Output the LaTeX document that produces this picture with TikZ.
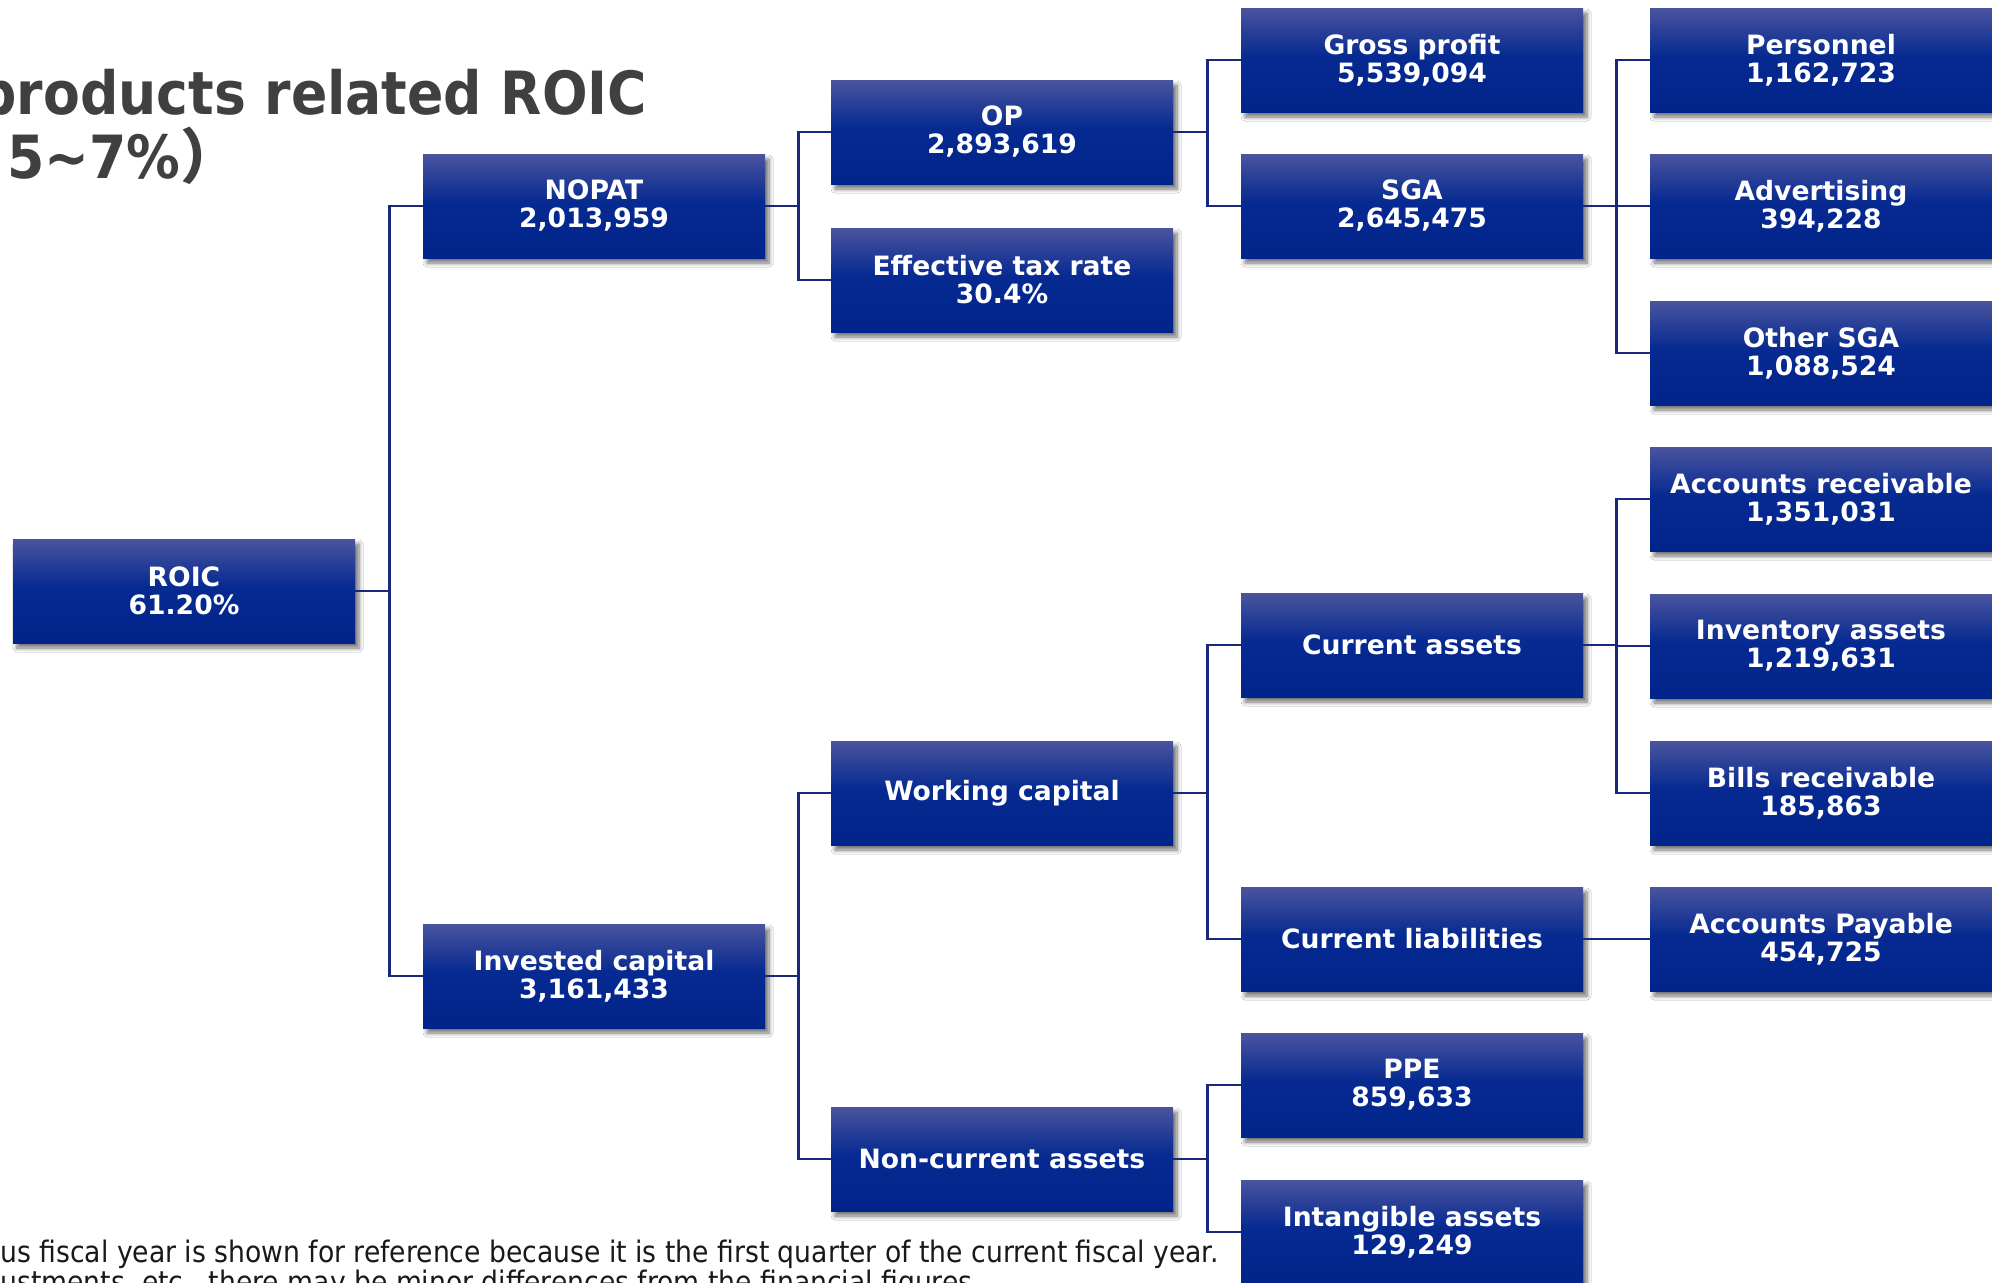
\documentclass[tikz,border=0pt]{standalone}
\usepackage{fontspec}
\setmainfont{DejaVu Sans}
\newfontfamily\condfont{DejaVu Sans Condensed}
\newfontfamily\cjkfont{Noto Sans CJK JP}
\usetikzlibrary{shadows.blur}
\definecolor{boxtop}{RGB}{74,84,158}
\definecolor{boxmid}{RGB}{6,42,145}
\definecolor{boxbot}{RGB}{0,36,138}
\definecolor{linecol}{RGB}{24,40,124}
\definecolor{titlecol}{RGB}{64,64,64}
\pgfdeclareverticalshading{boxshade}{100bp}{color(0bp)=(boxbot); color(25bp)=(boxbot); color(52bp)=(boxmid); color(75bp)=(boxtop); color(100bp)=(boxtop)}
\tikzset{
  kbox/.style={shading=boxshade, minimum width=171pt, minimum height=52pt, inner sep=0pt,
    align=center, text=white, font=\bfseries\fontsize{13.3}{14}\selectfont,
    blur shadow={shadow xshift=2pt, shadow yshift=-2.5pt, shadow blur radius=2pt, shadow blur steps=6, shadow opacity=55}},
  link/.style={draw=linecol, line width=1.2pt},
  titletext/.style={anchor=base west, inner sep=0pt, text=titlecol, font=\condfont\bfseries\fontsize{29.8}{30}\selectfont},
  notetext/.style={anchor=base west, inner sep=0pt, text=black!90, font=\condfont\fontsize{14.8}{15}\selectfont}
}
\begin{document}
\begin{tikzpicture}[x=0.5pt,y=-0.5pt]
\useasboundingbox (0,0) rectangle (1992,1282);
\clip (0,0) rectangle (1992,1282);
\fill[white] (0,0) rectangle (1992,1282);
% title
\node[titletext] (t1) at (-22,114) {products related ROIC};
\node[titletext] (t2) at (7,178) {5\textasciitilde7\%{\cjkfont ）}};
% notes
\node[notetext] (n1) at (0,1262) {us fiscal year is shown for reference because it is the first quarter of the current fiscal year.};
\node[notetext] (n2) at (0,1292) {ustments, etc., there may be minor differences from the financial figures.};
% column 1
\node[kbox] (roic) at (184,591) {ROIC\\61.20\%};
% column 2
\node[kbox] (nopat) at (594,206) {NOPAT\\2,013,959};
\node[kbox] (ic) at (594,976) {Invested capital\\3,161,433};
% column 3
\node[kbox] (op) at (1002,132) {OP\\2,893,619};
\node[kbox] (tax) at (1002,280) {Effective tax rate\\30.4\%};
\node[kbox] (wc) at (1002,793) {Working capital};
\node[kbox] (nca) at (1002,1159) {Non-current assets};
% column 4
\node[kbox] (gp) at (1412,60) {Gross profit\\5,539,094};
\node[kbox] (sga) at (1412,206) {SGA\\2,645,475};
\node[kbox] (ca) at (1412,645) {Current assets};
\node[kbox] (cl) at (1412,939) {Current liabilities};
\node[kbox] (ppe) at (1412,1085) {PPE\\859,633};
\node[kbox] (ia) at (1412,1232) {Intangible assets\\129,249};
% column 5
\node[kbox] (pers) at (1821,60) {Personnel\\1,162,723};
\node[kbox] (adv) at (1821,206) {Advertising\\394,228};
\node[kbox] (osga) at (1821,353) {Other SGA\\1,088,524};
\node[kbox] (ar) at (1821,499) {Accounts receivable\\1,351,031};
\node[kbox] (inv) at (1821,646) {Inventory assets\\1,219,631};
\node[kbox] (bills) at (1821,793) {Bills receivable\\185,863};
\node[kbox] (ap) at (1821,939) {Accounts Payable\\454,725};
% connectors
\draw[link] (roic.east) -- ++(34,0) |- (nopat.west);
\draw[link] (roic.east) -- ++(34,0) |- (ic.west);
\draw[link] (nopat.east) -- ++(33,0) |- (op.west);
\draw[link] (nopat.east) -- ++(33,0) |- (tax.west);
\draw[link] (ic.east) -- ++(33,0) |- (wc.west);
\draw[link] (ic.east) -- ++(33,0) |- (nca.west);
\draw[link] (op.east) -- ++(34,0) |- (gp.west);
\draw[link] (op.east) -- ++(34,0) |- (sga.west);
\draw[link] (wc.east) -- ++(34,0) |- (ca.west);
\draw[link] (wc.east) -- ++(34,0) |- (cl.west);
\draw[link] (nca.east) -- ++(34,0) |- (ppe.west);
\draw[link] (nca.east) -- ++(34,0) |- (ia.west);
\draw[link] (sga.east) -- ++(33,0) |- (pers.west);
\draw[link] (sga.east) -- ++(33,0) |- (adv.west);
\draw[link] (sga.east) -- ++(33,0) |- (osga.west);
\draw[link] (ca.east) -- ++(33,0) |- (ar.west);
\draw[link] (ca.east) -- ++(33,0) |- (inv.west);
\draw[link] (ca.east) -- ++(33,0) |- (bills.west);
\draw[link] (cl.east) -- (ap.west);
\end{tikzpicture}
\end{document}
